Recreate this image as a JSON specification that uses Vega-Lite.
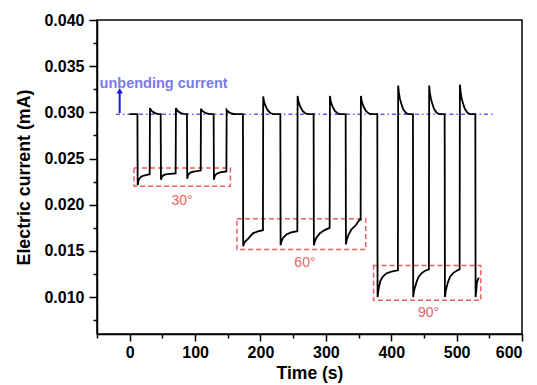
{
  "$schema": "https://vega.github.io/schema/vega-lite/v6.json",
  "width": 425,
  "height": 314,
  "autosize": {"type": "none"},
  "padding": {"left": 97, "top": 20, "right": 15, "bottom": 51},
  "config": {
    "font": "Liberation Sans",
    "view": {"stroke": "black", "strokeWidth": 1.5},
    "axis": {"grid": false, "domainColor": "black", "domainWidth": 1.5, "tickColor": "black", "tickWidth": 1.5, "labelColor": "black", "titleColor": "black"}
  },
  "datasets": {
    "curve": [
      {"t": 0, "i": 0.0298}, {"t": 11.8, "i": 0.0298}, {"t": 12.2, "i": 0.0221}, {"t": 13.3, "i": 0.02258}, {"t": 14.8, "i": 0.02282}, {"t": 17.8, "i": 0.02304}, {"t": 21.8, "i": 0.02316}, {"t": 30.6, "i": 0.0233},
      {"t": 31.0, "i": 0.03046}, {"t": 32.1, "i": 0.0303}, {"t": 33.6, "i": 0.03016}, {"t": 35.6, "i": 0.03005}, {"t": 38.6, "i": 0.02992}, {"t": 42.6, "i": 0.02983}, {"t": 46.6, "i": 0.0298},
      {"t": 47.4, "i": 0.0298}, {"t": 47.8, "i": 0.0227}, {"t": 48.9, "i": 0.02298}, {"t": 50.4, "i": 0.02312}, {"t": 53.4, "i": 0.02325}, {"t": 57.4, "i": 0.02332}, {"t": 70.3, "i": 0.0234},
      {"t": 70.7, "i": 0.03046}, {"t": 71.8, "i": 0.0303}, {"t": 73.3, "i": 0.03016}, {"t": 75.3, "i": 0.03005}, {"t": 78.3, "i": 0.02992}, {"t": 82.3, "i": 0.02983}, {"t": 86.3, "i": 0.0298},
      {"t": 87.6, "i": 0.0298}, {"t": 88.0, "i": 0.0228}, {"t": 89.1, "i": 0.02316}, {"t": 90.6, "i": 0.02334}, {"t": 93.6, "i": 0.0235}, {"t": 97.6, "i": 0.02359}, {"t": 108.6, "i": 0.0237},
      {"t": 109.0, "i": 0.0304}, {"t": 110.1, "i": 0.03025}, {"t": 111.6, "i": 0.03013}, {"t": 113.6, "i": 0.03003}, {"t": 116.6, "i": 0.02991}, {"t": 120.6, "i": 0.02983}, {"t": 124.6, "i": 0.0298},
      {"t": 128.4, "i": 0.0298}, {"t": 128.8, "i": 0.0227}, {"t": 129.9, "i": 0.02306}, {"t": 131.4, "i": 0.02324}, {"t": 134.4, "i": 0.0234}, {"t": 138.4, "i": 0.02349}, {"t": 147.9, "i": 0.0236},
      {"t": 148.3, "i": 0.03025}, {"t": 149.4, "i": 0.03014}, {"t": 150.9, "i": 0.03005}, {"t": 152.9, "i": 0.02997}, {"t": 155.9, "i": 0.02988}, {"t": 159.9, "i": 0.02982}, {"t": 163.9, "i": 0.0298},
      {"t": 173.2, "i": 0.0298}, {"t": 173.6, "i": 0.0155}, {"t": 174.6, "i": 0.01575}, {"t": 176.5, "i": 0.016}, {"t": 180.9, "i": 0.0163}, {"t": 188.5, "i": 0.0169}, {"t": 196.0, "i": 0.01712}, {"t": 203.8, "i": 0.01724},
      {"t": 204.2, "i": 0.03172}, {"t": 205.3, "i": 0.03124}, {"t": 206.8, "i": 0.03086}, {"t": 208.8, "i": 0.03053}, {"t": 211.8, "i": 0.03015}, {"t": 215.8, "i": 0.0299}, {"t": 219.8, "i": 0.0298},
      {"t": 230.4, "i": 0.0298}, {"t": 230.8, "i": 0.0156}, {"t": 232.0, "i": 0.016}, {"t": 234.5, "i": 0.0164}, {"t": 239.6, "i": 0.01677}, {"t": 247.0, "i": 0.017}, {"t": 256.4, "i": 0.01713},
      {"t": 256.8, "i": 0.03178}, {"t": 257.9, "i": 0.03129}, {"t": 259.4, "i": 0.03089}, {"t": 261.4, "i": 0.03055}, {"t": 264.4, "i": 0.03016}, {"t": 268.4, "i": 0.0299}, {"t": 272.4, "i": 0.0298},
      {"t": 281.3, "i": 0.0298}, {"t": 281.7, "i": 0.0156}, {"t": 283.0, "i": 0.016}, {"t": 285.5, "i": 0.0164}, {"t": 290.5, "i": 0.01688}, {"t": 298.0, "i": 0.01725}, {"t": 305.8, "i": 0.0175},
      {"t": 306.2, "i": 0.03178}, {"t": 307.3, "i": 0.03129}, {"t": 308.8, "i": 0.03089}, {"t": 310.8, "i": 0.03055}, {"t": 313.8, "i": 0.03016}, {"t": 317.8, "i": 0.0299}, {"t": 321.8, "i": 0.0298},
      {"t": 330.3, "i": 0.0298}, {"t": 330.7, "i": 0.0157}, {"t": 332.0, "i": 0.0162}, {"t": 334.5, "i": 0.0167}, {"t": 339.0, "i": 0.01731}, {"t": 346.0, "i": 0.0178}, {"t": 351.7, "i": 0.01839}, {"t": 352.5, "i": 0.0184}, {"t": 353.2, "i": 0.0183},
      {"t": 353.6, "i": 0.03178}, {"t": 354.7, "i": 0.03129}, {"t": 356.2, "i": 0.03089}, {"t": 358.2, "i": 0.03055}, {"t": 361.2, "i": 0.03016}, {"t": 365.2, "i": 0.0299}, {"t": 369.2, "i": 0.0298},
      {"t": 378.7, "i": 0.0298}, {"t": 379.1, "i": 0.01}, {"t": 380.5, "i": 0.0108}, {"t": 383.3, "i": 0.01173}, {"t": 387.0, "i": 0.0122}, {"t": 392.5, "i": 0.01256}, {"t": 400.0, "i": 0.01275}, {"t": 410.2, "i": 0.01289},
      {"t": 410.6, "i": 0.0329}, {"t": 411.7, "i": 0.03213}, {"t": 413.2, "i": 0.03151}, {"t": 415.2, "i": 0.03098}, {"t": 418.2, "i": 0.03036}, {"t": 422.2, "i": 0.02996}, {"t": 426.2, "i": 0.0298},
      {"t": 433.2, "i": 0.0298}, {"t": 433.6, "i": 0.01}, {"t": 435.0, "i": 0.0107}, {"t": 438.4, "i": 0.01156}, {"t": 442.0, "i": 0.0122}, {"t": 447.0, "i": 0.01262}, {"t": 452.0, "i": 0.01285}, {"t": 457.6, "i": 0.013},
      {"t": 458.0, "i": 0.0329}, {"t": 459.1, "i": 0.03213}, {"t": 460.6, "i": 0.03151}, {"t": 462.6, "i": 0.03098}, {"t": 465.6, "i": 0.03036}, {"t": 469.6, "i": 0.02996}, {"t": 473.6, "i": 0.0298},
      {"t": 481.7, "i": 0.0298}, {"t": 482.1, "i": 0.01}, {"t": 483.5, "i": 0.0107}, {"t": 486.5, "i": 0.01156}, {"t": 490.0, "i": 0.0122}, {"t": 495.0, "i": 0.01262}, {"t": 500.0, "i": 0.01285}, {"t": 504.6, "i": 0.013},
      {"t": 505.0, "i": 0.033}, {"t": 506.1, "i": 0.0322}, {"t": 507.6, "i": 0.03156}, {"t": 509.6, "i": 0.03102}, {"t": 512.6, "i": 0.03038}, {"t": 516.6, "i": 0.02996}, {"t": 520.6, "i": 0.0298},
      {"t": 528.6, "i": 0.0298}, {"t": 529.0, "i": 0.01}, {"t": 530.0, "i": 0.0106}, {"t": 531.0, "i": 0.01156}, {"t": 532.5, "i": 0.0119}, {"t": 534.1, "i": 0.0121}
    ],
    "boxes": [
      {"x1": 6.6, "x2": 154, "y1": 0.022, "y2": 0.02398},
      {"x1": 164, "x2": 361, "y1": 0.01515, "y2": 0.01847},
      {"x1": 373, "x2": 537, "y1": 0.00965, "y2": 0.01343}
    ],
    "labels": [
      {"t": 80, "v": 0.02045, "text": "30°"},
      {"t": 268, "v": 0.01372, "text": "60°"},
      {"t": 457, "v": 0.00824, "text": "90°"}
    ],
    "baseline": [{"x1": -21, "x2": 556, "v": 0.0298}],
    "arrow": [{"t": -15.3, "v1": 0.02992, "v2": 0.0322, "tip": 0.03235}],
    "note": [{"t": -46, "v": 0.0331, "text": "unbending current"}]
  },
  "layer": [
    {
      "data": {"name": "boxes"},
      "mark": {"type": "rect", "fill": null, "fillOpacity": 0, "stroke": "#e8625f", "strokeWidth": 1.5, "strokeDash": [5, 3]},
      "encoding": {
        "x": {"field": "x1", "type": "quantitative", "scale": {"domain": [-50, 600], "nice": false}, "axis": {"orient": "bottom", "values": [0, 100, 200, 300, 400, 500, 600], "format": "d", "labelFontSize": 16, "labelFontWeight": "bold", "tickSize": 7, "labelPadding": 3, "title": "Time (s)", "titleFontSize": 17.5, "titleFontWeight": "bold", "titlePadding": 4}},
        "x2": {"field": "x2"},
        "y": {"field": "y1", "type": "quantitative", "scale": {"domain": [0.006, 0.04], "nice": false, "zero": false}, "axis": {"orient": "left", "values": [0.01, 0.015, 0.02, 0.025, 0.03, 0.035, 0.04], "format": ".3f", "labelFontSize": 16, "labelFontWeight": "bold", "tickSize": 8, "labelPadding": 5, "title": "Electric current (mA)", "titleFontSize": 17.8, "titleFontWeight": "bold", "titlePadding": 10}},
        "y2": {"field": "y2"}
      }
    },
    {
      "data": {"name": "boxes"},
      "mark": {"type": "point", "opacity": 0},
      "encoding": {
        "x": {"field": "x1", "type": "quantitative", "axis": {"orient": "bottom", "values": [-50, 50, 150, 250, 350, 450, 550], "labels": false, "domain": false, "tickSize": 4, "title": null}},
        "y": {"field": "y1", "type": "quantitative", "axis": {"orient": "left", "values": [0.0075, 0.0125, 0.0175, 0.0225, 0.0275, 0.0325, 0.0375], "labels": false, "domain": false, "tickSize": 4, "title": null}}
      }
    },
    {
      "data": {"name": "baseline"},
      "mark": {"type": "rule", "color": "#5c5cf2", "strokeWidth": 1.5, "strokeDash": [4, 3, 1.5, 3]},
      "encoding": {
        "x": {"field": "x1", "type": "quantitative", "axis": null},
        "x2": {"field": "x2"},
        "y": {"field": "v", "type": "quantitative", "axis": null}
      }
    },
    {
      "data": {"name": "curve"},
      "mark": {"type": "line", "color": "black", "strokeWidth": 1.8},
      "encoding": {
        "x": {"field": "t", "type": "quantitative", "axis": null},
        "y": {"field": "i", "type": "quantitative", "axis": null},
        "order": {"field": "t", "type": "quantitative"}
      }
    },
    {
      "data": {"name": "labels"},
      "mark": {"type": "text", "color": "#e8625f", "fontSize": 14, "align": "center", "baseline": "middle"},
      "encoding": {
        "x": {"field": "t", "type": "quantitative", "axis": null},
        "y": {"field": "v", "type": "quantitative", "axis": null},
        "text": {"field": "text"}
      }
    },
    {
      "data": {"name": "arrow"},
      "mark": {"type": "rule", "color": "#1a1ad6", "strokeWidth": 2},
      "encoding": {
        "x": {"field": "t", "type": "quantitative", "axis": null},
        "y": {"field": "v1", "type": "quantitative", "axis": null},
        "y2": {"field": "v2"}
      }
    },
    {
      "data": {"name": "arrow"},
      "mark": {"type": "point", "shape": "triangle-up", "filled": true, "color": "#1a1ad6", "size": 40, "opacity": 1},
      "encoding": {
        "x": {"field": "t", "type": "quantitative", "axis": null},
        "y": {"field": "tip", "type": "quantitative", "axis": null}
      }
    },
    {
      "data": {"name": "note"},
      "mark": {"type": "text", "color": "#7a7aee", "fontSize": 14.5, "fontWeight": "bold", "align": "left", "baseline": "middle"},
      "encoding": {
        "x": {"field": "t", "type": "quantitative", "axis": null},
        "y": {"field": "v", "type": "quantitative", "axis": null},
        "text": {"field": "text"}
      }
    }
  ],
  "resolve": {"axis": {"x": "independent", "y": "independent"}}
}
